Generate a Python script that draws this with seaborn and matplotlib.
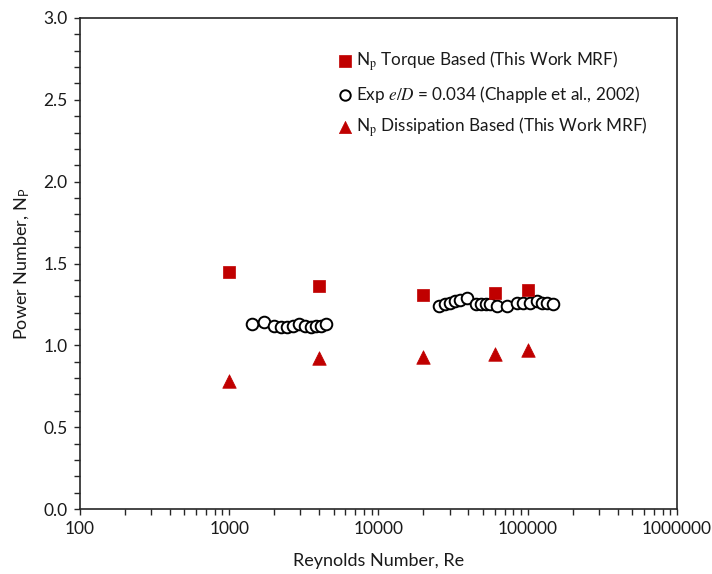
import matplotlib
matplotlib.use("Agg")
import matplotlib.pyplot as plt
import matplotlib.ticker as mticker
import seaborn as sns
import pandas as pd

# ---- data ----
re_sim = [1000, 4000, 20000, 60000, 100000]
np_torque = [1.45, 1.36, 1.31, 1.32, 1.34]
np_dissipation = [0.78, 0.92, 0.93, 0.95, 0.97]

re_exp = [1420, 1710, 1990, 2220, 2440, 2670, 2930, 3220, 3530, 3810, 4120, 4450,
          25550, 27900, 30100, 32500, 35200, 39000, 45000, 48600, 52500, 55800,
          62500, 73000, 84400, 93400, 103500, 114800, 123900, 133900, 146900]
np_exp = [1.13, 1.14, 1.12, 1.11, 1.11, 1.12, 1.13, 1.12, 1.11, 1.12, 1.12, 1.13,
          1.24, 1.25, 1.26, 1.27, 1.28, 1.29, 1.25, 1.25, 1.25, 1.25,
          1.24, 1.24, 1.26, 1.26, 1.26, 1.27, 1.26, 1.26, 1.25]

xtick_vals = [100, 1000, 10000, 100000, 1000000]

label_torque = r"N$_{\mathrm{p}}$ Torque Based (This Work MRF)"
label_exp = r"Exp $e/D$ = 0.034 (Chapple et al., 2002)"
label_diss = r"N$_{\mathrm{p}}$ Dissipation Based (This Work MRF)"

sns.set_theme(style="ticks")
plt.rcParams["font.family"] = ["Lato", "DejaVu Sans"]
plt.rcParams["mathtext.fontset"] = "stix"

red = "#C00000"
txt = "#1a1a1a"
fig = plt.figure(figsize=(7.12, 5.74), dpi=100)
ax = fig.add_axes([80 / 712, 1 - 509 / 574, 597 / 712, 491 / 574])

df_t = pd.DataFrame({"Re": re_sim, "Np": np_torque})
df_e = pd.DataFrame({"Re": re_exp, "Np": np_exp})
df_d = pd.DataFrame({"Re": re_sim, "Np": np_dissipation})

sns.scatterplot(data=df_t, x="Re", y="Np", ax=ax, marker="s", s=80,
                color=red, edgecolor=red, linewidth=0.5, label=label_torque, zorder=3)
sns.scatterplot(data=df_e, x="Re", y="Np", ax=ax, marker="o", s=70,
                facecolor="white", edgecolor="black", linewidth=1.4,
                label=label_exp, zorder=2)
sns.scatterplot(data=df_d, x="Re", y="Np", ax=ax, marker="^", s=95,
                color=red, edgecolor=red, linewidth=0.5, label=label_diss, zorder=3)

ax.set_xscale("log")
ax.set_xlim(100, 1000000)
ax.set_ylim(0, 3.0)
ax.set_xticks(xtick_vals)
ax.xaxis.set_major_formatter(mticker.FuncFormatter(lambda v, p: f"{int(round(v))}"))
ax.xaxis.set_minor_locator(mticker.LogLocator(base=10, subs=range(2, 10), numticks=20))
ax.xaxis.set_minor_formatter(mticker.NullFormatter())
ax.yaxis.set_major_locator(mticker.MultipleLocator(0.5))
ax.yaxis.set_minor_locator(mticker.MultipleLocator(0.1))
ax.yaxis.set_major_formatter(mticker.FormatStrFormatter("%.1f"))

ax.tick_params(axis="both", which="both", direction="out", length=4, width=1,
               color="#262626", labelsize=12.5, labelcolor=txt)
ax.tick_params(axis="both", which="major", pad=5)
for sp in ax.spines.values():
    sp.set_color("#262626")
    sp.set_linewidth(1.2)
    sp.set_visible(True)

ax.set_xlabel("Reynolds Number, Re", fontsize=13, color=txt, labelpad=11)
ax.set_ylabel(r"Power Number, N$_{\mathregular{P}}$", fontsize=13, color=txt, labelpad=9)

leg = ax.legend(loc="upper left", bbox_to_anchor=(0.418, 0.95), frameon=False,
                fontsize=12.3, handletextpad=0.15, labelspacing=0.62,
                borderaxespad=0, handlelength=1.0, markerscale=0.9)
for t in leg.get_texts():
    t.set_color(txt)

fig.savefig("out.png", dpi=100)
